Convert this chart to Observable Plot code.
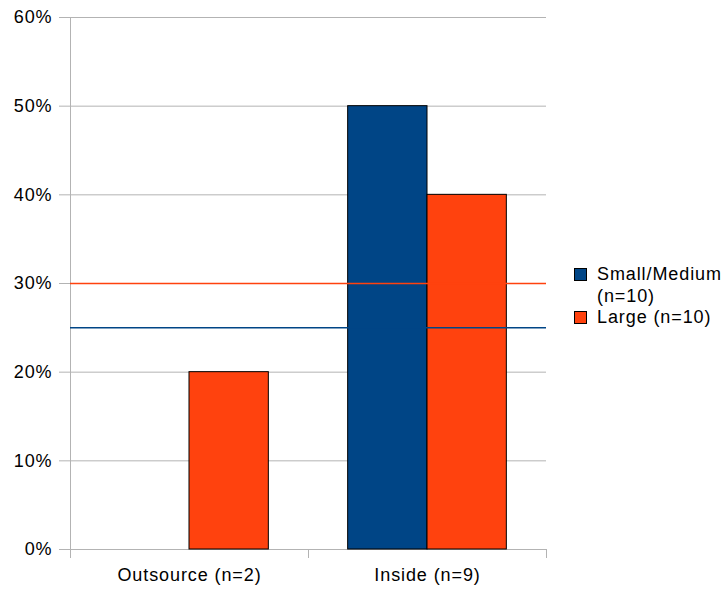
<!DOCTYPE html>
<html>
<head>
<meta charset="utf-8">
<script src="https://cdn.jsdelivr.net/npm/d3@7"></script>
<script src="https://cdn.jsdelivr.net/npm/@observablehq/plot@0.6"></script>
<style>
  html, body { margin: 0; padding: 0; background: #fff; }
  #wrap { position: relative; width: 724px; height: 592px; font-family: "Liberation Sans", Arial, sans-serif; }
  #legend { position: absolute; left: 574px; top: 264px; font-size: 18px; letter-spacing: 0.9px; color: #000; }
  .item { display: flex; align-items: flex-start; }
  .swatch { width: 11px; height: 11px; border: 1px solid #000; margin-top: 4px; margin-right: 10px; flex: none; }
  .label { line-height: 21.5px; }
</style>
</head>
<body>
<div id="wrap"><div id="legend"></div></div>
<script>
// Where the work gets done, split by company size
const categories = ["Outsource (n=2)", "Inside (n=9)"];
const series = ["Small/Medium (n=10)", "Large (n=10)"];
const seriesLabels = [["Small/Medium", "(n=10)"], ["Large (n=10)"]];
const smallMedium = [0, 0.5];
const large = [0.2, 0.4];
// Overall share for each size group, drawn as reference lines
const overall = [0.25, 0.30];
const colors = ["#004586", "#ff420e"];
const yTicks = [0, 0.1, 0.2, 0.3, 0.4, 0.5, 0.6];

// Each category occupies one unit on x; the pair of bars fills its middle two thirds
const groupShare = 2 / 3;
const rows = [];
categories.forEach((c, i) => {
  [smallMedium, large].forEach((vals, j) => {
    const w = groupShare / series.length;
    const x1 = i + (1 - groupShare) / 2 + j * w;
    rows.push({category: c, series: series[j], value: vals[i], x1, x2: x1 + w});
  });
});
const refs = series.map((s, j) => ({series: s, value: overall[j]}));

const fontFamily = "Liberation Sans, Arial, sans-serif";
const grey = "#b3b3b3";

const chart = Plot.plot({
  width: 724,
  height: 592,
  marginLeft: 70,
  marginRight: 178,
  marginTop: 17,
  marginBottom: 43,
  style: {fontFamily, fontSize: "18px", letterSpacing: "0.9px", color: "#000", background: "#fff"},
  x: {domain: [0, categories.length], label: null},
  y: {domain: [0, 0.6], label: null},
  color: {domain: series, range: colors},
  marks: [
    Plot.gridY(yTicks, {stroke: grey, strokeOpacity: 1}),
    Plot.ruleX([0], {stroke: grey}),
    Plot.axisY(yTicks, {tickSize: 11, tickPadding: 7, stroke: grey, fill: "#000", tickFormat: d3.format(".0%"), label: null, fontSize: 18}),
    Plot.axisX(d3.range(categories.length + 1), {tickSize: 9, stroke: grey, tickFormat: () => "", label: null}),
    Plot.axisX(categories.map((c, i) => i + 0.5), {tickSize: 0, tickPadding: 19, fill: "#000", tickFormat: (d) => categories[Math.floor(d)], label: null, fontSize: 18}),
    Plot.rectY(rows, {x1: "x1", x2: "x2", y: "value", fill: "series", stroke: "#000", strokeWidth: 1, filter: (d) => d.value > 0}),
    Plot.ruleY(refs, {y: "value", stroke: "series", strokeWidth: 1.5})
  ]
});
document.getElementById("wrap").prepend(chart);

const legend = document.getElementById("legend");
seriesLabels.forEach((lines, j) => {
  const item = document.createElement("div");
  item.className = "item";
  const sw = document.createElement("div");
  sw.className = "swatch";
  sw.style.background = colors[j];
  const lab = document.createElement("div");
  lab.className = "label";
  lab.innerHTML = lines.join("<br>");
  item.append(sw, lab);
  legend.append(item);
});
</script>
</body>
</html>
